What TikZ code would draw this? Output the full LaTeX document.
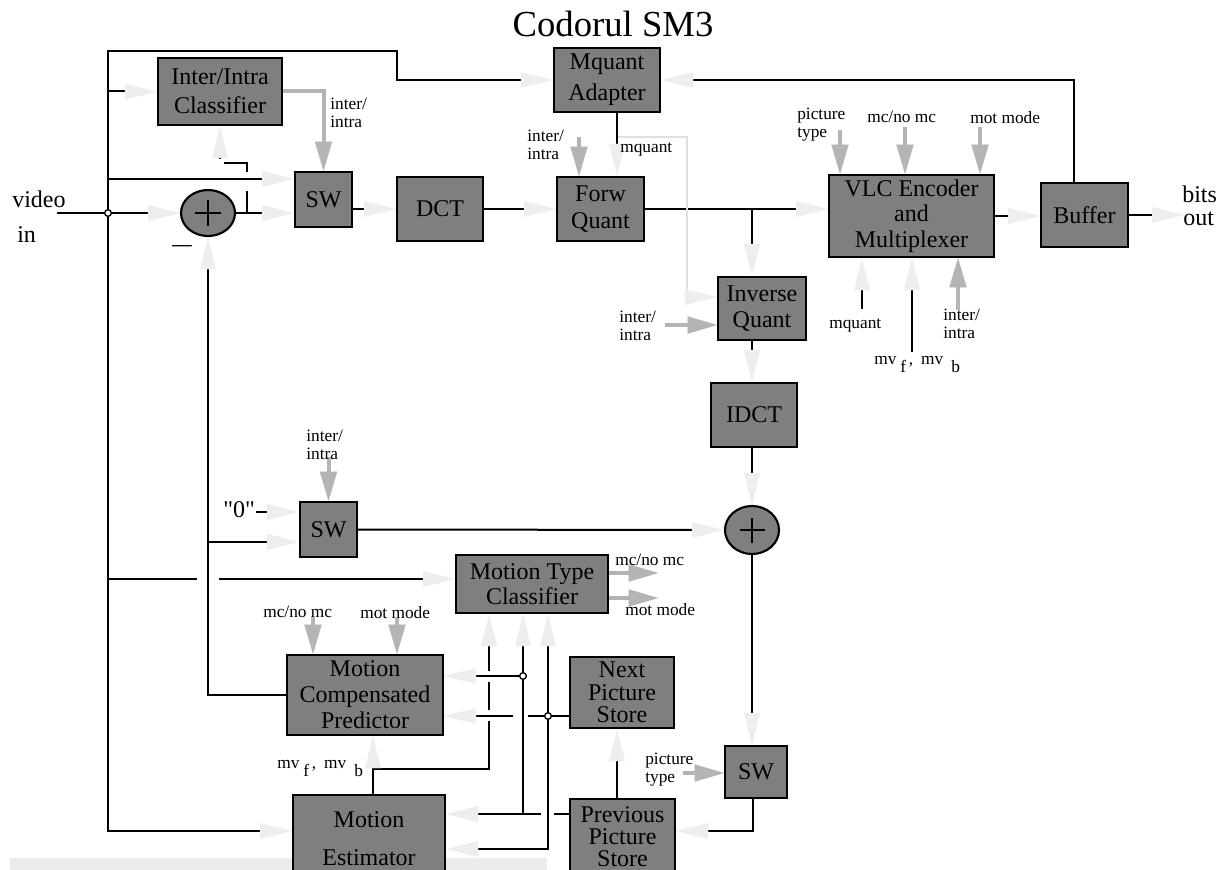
\documentclass[tikz,border=0pt]{standalone}
\usepackage{fontspec}
\setmainfont{Liberation Serif}
\newfontfamily\plainq{Liberation Serif}[Ligatures=TeXOff]
\usetikzlibrary{arrows.meta,shapes.geometric,calc}
\definecolor{boxgray}{RGB}{127,127,127}
\definecolor{tiplight}{RGB}{238,238,238}
\definecolor{siggray}{RGB}{180,180,180}
\definecolor{paleline}{RGB}{224,224,224}
\definecolor{barlight}{RGB}{236,236,236}
\newcommand{\mvfblabel}{mv\hspace{3pt}\raisebox{-6.5pt}{f}\hspace{2pt},\hspace{6pt}mv\hspace{6pt}\raisebox{-6.5pt}{b}}
\tikzset{
 box/.style={draw=black, line width=1.6pt, fill=boxgray, align=center, inner sep=1pt, font=\fontsize{18}{20}\selectfont},
 sz/.style 2 args={minimum width=#1*0.75pt, minimum height=#2*0.75pt},
 adder/.style={ellipse, draw=black, line width=1.6pt, fill=boxgray, inner sep=0pt},
 ln/.style={draw=black, line width=1.5pt},
 lt/.style={draw=black, line width=1.5pt, -{Triangle[length=24pt,width=12pt,color=tiplight,line width=0.1pt]}},
 pl/.style={draw=paleline, line width=2pt, -{Triangle[length=24pt,width=12pt,color=tiplight,line width=0.1pt]}},
 gs/.style={draw=siggray, line width=3pt, -{Triangle[length=22pt,width=13pt,line width=0.1pt]}},
 lbl/.style={font=\fontsize{13}{13.5}\selectfont, inner sep=0pt, align=left},
 big/.style={font=\fontsize{18}{20}\selectfont, inner sep=0pt},
 jdot/.style={circle, draw=black, fill=white, line width=1pt, inner sep=0pt, minimum size=5pt},
}
\begin{document}
\begin{tikzpicture}[x=0.75pt,y=-0.75pt]
\useasboundingbox (0,0) rectangle (1224,870);
\clip (0,0) rectangle (1224,870);
\fill[barlight] (10,858) rectangle (547,875);

\node[font=\fontsize{27.5}{30}\selectfont, inner sep=0pt, anchor=base] (title) at (613,37) {Codorul SM3};

% boxes
\node[box, sz={124}{67}, font=\fontsize{18}{22}\selectfont] (iic) at (220,91.5) {Inter/Intra\\Classifier};
\node[box, sz={106}{64}, font=\fontsize{18}{23}\selectfont] (mqa) at (607,80) {Mquant\\Adapter};
\node[box, sz={57}{55}] (sw1) at (323.5,199.5) {SW};
\node[box, sz={86}{64}] (dct) at (440,209) {DCT};
\node[box, sz={87}{64}] (fq) at (600.5,209) {Forw\\Quant};
\node[box, sz={88}{63}] (iq) at (762,308.5) {Inverse\\Quant};
\node[box, sz={165}{82}, font=\fontsize{18}{19}\selectfont] (vlc) at (911.5,216) {VLC Encoder\\and\\Multiplexer};
\node[box, sz={87}{64}] (buf) at (1084.5,215) {Buffer};
\node[box, sz={86}{64}] (idct) at (754,415) {IDCT};
\node[adder, sz={54}{46}] (add1) at (208,213) {};
\node[adder, sz={54}{48}] (add2) at (752,530) {};
\node[box, sz={57}{55}] (sw2) at (328.5,529.5) {SW};
\node[box, sz={152}{58}, font=\fontsize{18}{19}\selectfont] (mtc) at (532,584) {Motion Type\\Classifier};
\node[box, sz={156}{80}, font=\fontsize{18}{19.5}\selectfont] (mcp) at (365,695) {Motion\\Compensated\\Predictor};
\node[box, sz={104}{71}, font=\fontsize{18}{17}\selectfont] (nps) at (622,692.5) {Next\\Picture\\Store};
\node[box, sz={105}{75}, font=\fontsize{18}{16.5}\selectfont] (pps) at (622.5,836.5) {Previous\\Picture\\Store};
\node[box, sz={152}{87}] (me) at (369,838.5) {Motion\\[8.5pt]Estimator};
\node[box, sz={62}{52}] (sw3) at (756,772) {SW};

% adder signs
\draw[ln] ($(add1.center)+(-13,0)$) -- ($(add1.center)+(13,0)$);
\draw[ln] ($(add1.center)+(0,-13)$) -- ($(add1.center)+(0,13)$);
\draw[ln] ($(add2.center)+(-12.5,0)$) -- ($(add2.center)+(12.5,0)$);
\draw[ln] ($(add2.center)+(0,-12.5)$) -- ($(add2.center)+(0,12.5)$);
\node[font=\fontsize{24}{24}\selectfont, inner sep=0pt] (minus) at (182,246) {$-$};

% input and left trunk
\node[big, anchor=base west] (vtxt) at (12,207) {video};
\node[big, anchor=base west] (itxt) at (17,242) {in};
\coordinate (jv) at (108,213);
\draw[lt] (57,213) -- (add1.west);
\draw[lt] (jv) -- (108,51) -- (397,51) -- (397,80) -- (mqa.west);
\draw[lt] (jv) -- (108,831) -- ($(me.west)+(0,-7.5)$);
\draw[lt] (108,91.5) -- (iic.west);
\draw[lt] (108,179) -- ($(sw1.west)+(0,-20.5)$);
\draw[lt] (add1.east) -- ($(sw1.west)+(0,13.5)$);
\draw[ln] (247,213) -- (247,191);
\draw[ln] (247,172) -- (247,163) -- (224,163);
\draw[lt] (220,159) -- (iic.south);
\draw[gs] (iic.east) -| (sw1.north);
\node[lbl, anchor=north west] (l1) at (330,98) {inter/\\intra};

% feedback from predictor
\draw[lt] (mcp.west) -| (add1.south);
\draw[lt] (208,542) -- ($(sw2.west)+(0,12.5)$);
\draw[ln] (108,579) -- (197,579);
\draw[lt] (219,579) -- ($(mtc.west)+(0,-5)$);
\node[big, anchor=base west] (zero) at (223,517) {\plainq "0"};
\draw[lt] (256,512) -- ($(sw2.west)+(0,-17.5)$);
\draw[gs] ($(sw2.north)+(0,-44)$) -- (sw2.north);
\node[lbl, anchor=north west] (l2) at (306,430) {inter/\\intra};
\draw[lt] (sw2.east) -- (add2.west);

% forward chain
\draw[lt] (sw1.east |- dct.west) -- (dct.west);
\draw[lt] (dct.east) -- (fq.west);
\draw[lt] (fq.east) -- (fq.east -| vlc.west);
\coordinate (jq) at (752,209);
\draw[lt] (jq) -- (jq |- iq.north);
\draw[pl] (617,137) -- (687,137) -- (687,297) -- ($(iq.west)+(0,-11.5)$);
\draw[lt] ($(mqa.south)+(10,0)$) -- ($(fq.north)+(16.5,0)$);
\node[lbl, anchor=base west] (l3) at (620,153) {mquant};
\draw[gs] (579,137) -- ($(fq.north)+(-21.5,0)$);
\node[lbl, anchor=north west] (l4) at (527,130) {inter/\\intra};
\draw[gs] ($(iq.west)+(-52,16.5)$) -- ($(iq.west)+(0,16.5)$);
\node[lbl, anchor=north west] (l5) at (619,311) {inter/\\intra};
\draw[lt] (jq |- iq.south) -- (jq |- idct.north);
\draw[lt] (jq |- idct.south) -- (add2.north);
\draw[lt] (add2.south) -- (add2.south |- sw3.north);

% SW3 and picture stores
\draw[gs] ($(sw3.west)+(-41,1)$) -- ($(sw3.west)+(0,1)$);
\node[lbl, anchor=north west] (l6) at (645,753) {picture\\type};
\draw[lt] ($(sw3.south)+(-3,0)$) |- ($(pps.east)+(0,-5.5)$);
\draw[lt] ($(pps.north)+(-5.5,0)$) -- ($(nps.south)+(-5,0)$);
\draw[ln] ($(nps.west)+(0,23.5)$) -- (528,716);
\draw[lt] (513,716) -- ($(mcp.east)+(0,21)$);
\draw[lt] (548,716) -- ($(mtc.south)+(16,0)$);
\draw[lt] (548,716) -- (548,849) -- ($(me.east)+(0,10.5)$);
\draw[ln] ($(pps.west)+(0,-22.5)$) -- (554,814);
\draw[lt] (541,814) -- ($(me.east)+(0,-24.5)$);
\draw[lt] (523,814) -- ($(mtc.south)+(-9,0)$);
\draw[lt] (523,676) -- ($(mcp.east)+(0,-19)$);
\draw[ln] ($(me.north)+(4,0)$) -- (373,769) -- (489,769) -- (489,721);
\draw[ln] (489,710) -- (489,682);
\draw[lt] (489,671) -- ($(mtc.south)+(-43,0)$);
\draw[lt] (373,769) -- ($(mcp.south)+(8,0)$);
\node[lbl, anchor=base west] (l7) at (277,768) {\mvfblabel};

% motion type classifier outputs
\draw[gs] ($(mtc.east)+(0,-11)$) -- ++(49,0);
\draw[gs] ($(mtc.east)+(0,14)$) -- ++(49,0);
\node[lbl, anchor=base west] (l8) at (615,565) {mc/no mc};
\node[lbl, anchor=base west] (l9) at (625,615) {mot mode};

% predictor control inputs
\draw[gs] (313,617) -- ($(mcp.north)+(-52,0)$);
\draw[gs] (397,618) -- ($(mcp.north)+(32,0)$);
\node[lbl, anchor=base west] (l10) at (263,617) {mc/no mc};
\node[lbl, anchor=base west] (l11) at (360,618) {mot mode};

% VLC inputs
\draw[gs] (840,130) -- ($(vlc.north)+(-71.5,0)$);
\draw[gs] (905,127) -- ($(vlc.north)+(-6.5,0)$);
\draw[gs] (980,127) -- ($(vlc.north)+(68.5,0)$);
\node[lbl, anchor=north west] (l12) at (797,108) {picture\\type};
\node[lbl, anchor=base west] (l13) at (867,123) {mc/no mc};
\node[lbl, anchor=base west] (l14) at (970,124) {mot mode};
\draw[lt] (862,309) -- ($(vlc.south)+(-49.5,0)$);
\node[lbl, anchor=base west] (l15) at (829,328) {mquant};
\draw[lt] (912,352) -- ($(vlc.south)+(0.5,0)$);
\node[lbl, anchor=base west] (l16) at (874,364) {\mvfblabel};
\draw[gs] (958,310) -- ($(vlc.south)+(46.5,0)$);
\node[lbl, anchor=north west] (l17) at (943,309) {inter/\\intra};

% output
\draw[lt] (vlc.east) -- (vlc.east -| buf.west);
\draw[lt] (buf.east) -- ++(55,0);
\node[big, anchor=base west] (btxt) at (1182,203) {bits};
\node[big, anchor=base west] (otxt) at (1183,225) {out};
\draw[lt] ($(buf.north)+(-10.5,0)$) |- (mqa.east);

% junction dots
\node[jdot] at (jv) {};
\node[jdot] at (523,676) {};
\node[jdot] at (548,716) {};
\end{tikzpicture}
\end{document}
